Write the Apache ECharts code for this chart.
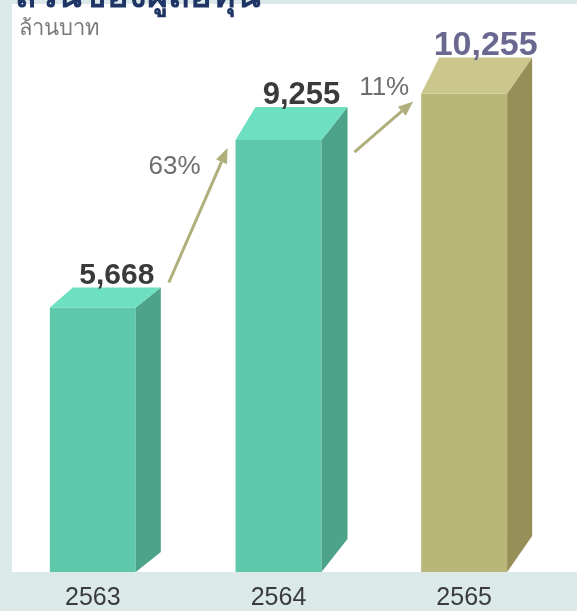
<!DOCTYPE html>
<html>
<head>
<meta charset="utf-8">
<script src="https://cdn.jsdelivr.net/npm/echarts@6/dist/echarts.min.js"></script>
<style>
  html, body { margin: 0; padding: 0; background: #dbe9e8; }
  #chart { width: 577px; height: 611px; }
</style>
</head>
<body>
<div id="chart"></div>
<script>
// data
const years = ['2563', '2564', '2565']
const equity = [5668, 9255, 10255]
const growth = [63, 11] // % change vs previous year
const unitText = 'ล้านบาท'
const titleText = 'ส่วนของผู้ถือหุ้น'

// look of the 3D blocks
const palettes = [
  { front: '#5fc7aa', side: '#4ca38a', top: '#6de0c1', label: '#3a3a3a', size: 30 },
  { front: '#5fc7aa', side: '#4ca38a', top: '#6de0c1', label: '#3a3a3a', size: 31 },
  { front: '#b9b67a', side: '#968f58', top: '#cbc78c', label: '#6a6890', size: 34 }
]
const depthX = [25, 26, 25]
const depthY = [20, 33, 36]
const topShift = [23, 20, 18]
// arrows between bars
const arrowStartDy = [-25, 12]
const pctOffset = [[-53, 19], [-29, -14]]

const numFont = '"Liberation Sans", Arial, Helvetica, sans-serif'

const chart = echarts.init(document.getElementById('chart'))

function barGeom(api, i, v) {
  const top = api.coord([i, v])
  const base = api.coord([i, 0])
  const w = api.size([1, 0])[0] * 0.463
  return { l: top[0] - w / 2, r: top[0] + w / 2, top: top[1], base: base[1] }
}

function renderBar(params, api) {
  const i = params.dataIndex
  const v = api.value(1)
  const g = barGeom(api, i, v)
  const dx = depthX[i]
  const dy = depthY[i]
  const ts = topShift[i]
  const p = palettes[i]
  return {
    type: 'group',
    children: [
      { type: 'rect', shape: { x: g.l, y: g.top, width: g.r - g.l, height: g.base - g.top }, style: { fill: p.front } },
      { type: 'polygon', shape: { points: [[g.r, g.top], [g.r + dx, g.top - dy], [g.r + dx, g.base - dy], [g.r, g.base]] }, style: { fill: p.side } },
      { type: 'polygon', shape: { points: [[g.l, g.top], [g.l + ts, g.top - dy], [g.r + dx, g.top - dy], [g.r, g.top]] }, style: { fill: p.top } },
      {
        type: 'text',
        style: {
          text: echarts.format.addCommas(v),
          x: (g.l + ts + g.r + dx) / 2,
          y: g.top - dy - 12,
          align: 'center',
          verticalAlign: 'middle',
          font: 'bold ' + p.size + 'px ' + numFont,
          fill: p.label
        }
      }
    ]
  }
}

function renderArrow(params, api) {
  const i = params.dataIndex
  const a = barGeom(api, i, equity[i])
  const b = barGeom(api, i + 1, equity[i + 1])
  const sx = a.r + 33
  const sy = a.top + arrowStartDy[i]
  const ex = b.l - 8
  const ey = b.top + 8
  const ang = Math.atan2(ey - sy, ex - sx)
  const hl = 15
  const hw = 6
  const bx = ex - hl * Math.cos(ang)
  const by = ey - hl * Math.sin(ang)
  const nx = -Math.sin(ang) * hw
  const ny = Math.cos(ang) * hw
  return {
    type: 'group',
    children: [
      { type: 'line', shape: { x1: sx, y1: sy, x2: bx, y2: by }, style: { stroke: '#afaf7c', lineWidth: 3 } },
      { type: 'polygon', shape: { points: [[ex, ey], [bx + nx, by + ny], [bx - nx, by - ny]] }, style: { fill: '#afaf7c' } },
      {
        type: 'text',
        style: {
          text: api.value(1) + '%',
          x: ex + pctOffset[i][0],
          y: ey + pctOffset[i][1],
          align: 'center',
          verticalAlign: 'middle',
          font: '26px ' + numFont,
          fill: '#6e6e6e'
        }
      }
    ]
  }
}

chart.setOption({
  animation: false,
  backgroundColor: '#dbe9e8',
  graphic: [
    { type: 'rect', left: 12, top: 4, shape: { width: 565, height: 568 }, style: { fill: '#ffffff' }, z: -10 },
    { type: 'text', left: 15, top: -21, style: { text: titleText, font: 'bold 36px "Noto Sans", sans-serif', fill: '#1f3566' } },
    { type: 'text', left: 19, top: 18, style: { text: unitText, font: '22px "Noto Sans", sans-serif', fill: '#7a7a7a' } }
  ],
  grid: { left: 0, right: 20, top: 12, bottom: 39 },
  xAxis: {
    type: 'category',
    data: years,
    axisLine: { show: false },
    axisTick: { show: false },
    axisLabel: { color: '#3b3b3b', fontSize: 25, fontFamily: numFont, margin: 14 }
  },
  yAxis: { type: 'value', min: 0, max: 12000, show: false },
  series: [
    {
      type: 'custom',
      renderItem: renderBar,
      data: equity.map((v, i) => [i, v])
    },
    {
      type: 'custom',
      renderItem: renderArrow,
      data: growth.map((g, i) => [i, g])
    }
  ]
})
</script>
</body>
</html>
